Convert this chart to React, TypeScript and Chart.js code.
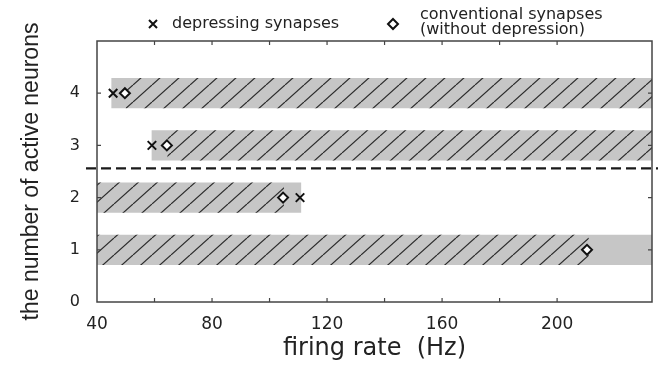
import React, { useEffect, useRef } from 'react';
import { Chart, registerables } from 'chart.js';

Chart.register(...registerables);

// ---- axis ranges & ticks ----
const X_MIN = 40;
const X_MAX = 233;
const Y_MIN = 0;
const Y_MAX = 5;
const X_TICKS = [40, 60, 80, 100, 120, 140, 160, 180, 200];
const X_LABELED = [40, 80, 120, 160, 200];
const Y_TICKS = [0, 1, 2, 3, 4];

// ---- data: number of active neurons (rows) ----
const ROWS = [1, 2, 3, 4];
// grey band: firing-rate range for depressing synapses
const DEP_START = [40, 40, 59, 45];
const DEP_END = [233, 111, 233, 233];
// hatched band: firing-rate range for conventional synapses
const CONV_START = [40, 40, 64.5, 50];
const CONV_END = [211, 105, 233, 233];
// boundary markers
const DEP_MARK: (number | null)[] = [null, 110.6, 59.1, 45.6];
const CONV_MARK: (number | null)[] = [210.4, 104.7, 64.3, 49.7];
const THRESHOLD = 2.56;

// ---- text ----
const LEGEND_DEP = 'depressing synapses';
const LEGEND_CONV = ['conventional synapses', '(without depression)'];
const X_TITLE = 'firing rate  (Hz)';
const Y_TITLE = 'the number of active neurons';

const FONT = '"DejaVu Sans", sans-serif';

const framePlugin = {
  id: 'frame',
  afterDraw(chart: any) {
    const { ctx, chartArea: a, scales } = chart;
    ctx.save();
    // dashed threshold line
    const yT = scales.y.getPixelForValue(THRESHOLD);
    ctx.strokeStyle = '#1a1a1a';
    ctx.lineWidth = 2.4;
    ctx.setLineDash([10, 5]);
    ctx.beginPath();
    ctx.moveTo(a.left - 11, yT);
    ctx.lineTo(a.right + 6, yT);
    ctx.stroke();
    ctx.setLineDash([]);

    // box
    ctx.strokeStyle = '#444';
    ctx.lineWidth = 1.5;
    ctx.strokeRect(a.left, a.top, a.right - a.left, a.bottom - a.top);

    // inside tick marks
    const L = 4;
    ctx.lineWidth = 1.2;
    ctx.beginPath();
    for (const t of scales.x.ticks) {
      const px = scales.x.getPixelForValue(t.value);
      if (px <= a.left + 1 || px >= a.right - 1) continue;
      ctx.moveTo(px, a.bottom);
      ctx.lineTo(px, a.bottom - L);
      ctx.moveTo(px, a.top);
      ctx.lineTo(px, a.top + L);
    }
    for (const t of scales.y.ticks) {
      const py = scales.y.getPixelForValue(t.value);
      if (py >= a.bottom - 1 || py <= a.top + 1) continue;
      ctx.moveTo(a.left, py);
      ctx.lineTo(a.left + L, py);
      ctx.moveTo(a.right, py);
      ctx.lineTo(a.right - L, py);
    }
    ctx.stroke();

    // legend
    ctx.fillStyle = '#222';
    ctx.font = '16px ' + FONT;
    ctx.textBaseline = 'middle';
    ctx.textAlign = 'left';
    const cx = 153, cy = 24, r = 4;
    ctx.strokeStyle = '#111';
    ctx.lineWidth = 2;
    ctx.beginPath();
    ctx.moveTo(cx - r, cy - r);
    ctx.lineTo(cx + r, cy + r);
    ctx.moveTo(cx + r, cy - r);
    ctx.lineTo(cx - r, cy + r);
    ctx.stroke();
    ctx.fillText(LEGEND_DEP, 172, 24);
    const dx = 393, dy = 24, dr = 5;
    ctx.beginPath();
    ctx.moveTo(dx, dy - dr);
    ctx.lineTo(dx + dr, dy);
    ctx.lineTo(dx, dy + dr);
    ctx.lineTo(dx - dr, dy);
    ctx.closePath();
    ctx.fillStyle = '#fff';
    ctx.fill();
    ctx.stroke();
    ctx.fillStyle = '#222';
    ctx.fillText(LEGEND_CONV[0], 420, 15);
    ctx.fillText(LEGEND_CONV[1], 420, 30);
    ctx.restore();
  },
};

export default function App() {
  const ref = useRef<HTMLCanvasElement>(null);

  useEffect(() => {
    const canvas = ref.current;
    if (!canvas) return;
    const ctx = canvas.getContext('2d')!;

    // hatch pattern
    const pc = document.createElement('canvas');
    const W = 19, H = 17;
    pc.width = W;
    pc.height = H;
    const p = pc.getContext('2d')!;
    p.strokeStyle = '#2a2a2a';
    p.lineWidth = 1.2;
    for (const off of [-W, 0, W]) {
      p.beginPath();
      p.moveTo(off, H);
      p.lineTo(off + W, 0);
      p.stroke();
    }
    const hatch = ctx.createPattern(pc, 'repeat');

    const depBars = ROWS.map((row, i) => ({ y: row, x: [DEP_START[i], DEP_END[i]] }));
    const convBars = ROWS.map((row, i) => ({ y: row, x: [CONV_START[i], CONV_END[i]] }));
    const depPts = ROWS.map((row, i) => (DEP_MARK[i] == null ? null : { x: DEP_MARK[i], y: row })).filter(Boolean);
    const convPts = ROWS.map((row, i) => (CONV_MARK[i] == null ? null : { x: CONV_MARK[i], y: row })).filter(Boolean);

    const chart = new Chart(ctx, {
      type: 'bar',
      data: {
        datasets: [
          {
            type: 'scatter',
            label: 'depressing synapses',
            data: depPts as any,
            pointStyle: 'crossRot',
            pointRadius: 6,
            borderWidth: 2,
            borderColor: '#111',
            backgroundColor: '#111',
            order: 0,
          } as any,
          {
            type: 'scatter',
            label: 'conventional synapses',
            data: convPts as any,
            pointStyle: 'rectRot',
            pointRadius: 5,
            borderWidth: 2,
            borderColor: '#111',
            backgroundColor: '#fff',
            order: 0,
          } as any,
          {
            type: 'bar',
            label: 'conventional range',
            data: convBars as any,
            backgroundColor: hatch as any,
            borderWidth: 0,
            barPercentage: 0.58,
            categoryPercentage: 1,
            grouped: false,
            order: 1,
          } as any,
          {
            type: 'bar',
            label: 'depressing range',
            data: depBars as any,
            backgroundColor: '#c6c6c6',
            borderWidth: 0,
            barPercentage: 0.58,
            categoryPercentage: 1,
            grouped: false,
            order: 2,
          } as any,
        ],
      },
      options: {
        indexAxis: 'y',
        animation: false,
        responsive: true,
        maintainAspectRatio: false,
        layout: { padding: { top: 41, right: 8, left: 0, bottom: 0 } },
        plugins: { legend: { display: false }, tooltip: { enabled: false } },
        scales: {
          x: {
            type: 'linear',
            min: X_MIN,
            max: X_MAX,
            offset: false,
            grid: { display: false, drawTicks: false, offset: false },
            border: { display: false },
            afterBuildTicks: (s: any) => {
              s.ticks = X_TICKS.map((v) => ({ value: v }));
            },
            afterFit: (s: any) => {
              s.height = 63;
            },
            ticks: {
              autoSkip: false,
              maxRotation: 0,
              padding: 12,
              color: '#222',
              font: { family: FONT, size: 17 },
              callback: (v: any) => (X_LABELED.includes(Number(v)) ? String(v) : ''),
            },
            title: {
              display: true,
              text: X_TITLE,
              color: '#222',
              font: { family: FONT, size: 24 },
              padding: { top: 0, bottom: 2 },
            },
          },
          y: {
            type: 'linear',
            min: Y_MIN,
            max: Y_MAX,
            offset: false,
            grid: { display: false, drawTicks: false, offset: false },
            border: { display: false },
            afterBuildTicks: (s: any) => {
              s.ticks = Y_TICKS.map((v) => ({ value: v }));
            },
            afterFit: (s: any) => {
              s.width = 97;
            },
            ticks: {
              autoSkip: false,
              padding: 17,
              color: '#222',
              font: { family: FONT, size: 16 },
              callback: (v: any) => String(v),
            },
            title: {
              display: true,
              text: Y_TITLE,
              color: '#222',
              font: { family: '"Liberation Sans", sans-serif', size: 23 },
              padding: { top: 18, bottom: 0 },
            },
          },
        },
      },
      plugins: [framePlugin],
    } as any);

    return () => chart.destroy();
  }, []);

  return (
    <div style={{ position: 'fixed', left: 0, top: 0, width: 660, height: 365, background: '#fff' }}>
      <canvas ref={ref} />
    </div>
  );
}
